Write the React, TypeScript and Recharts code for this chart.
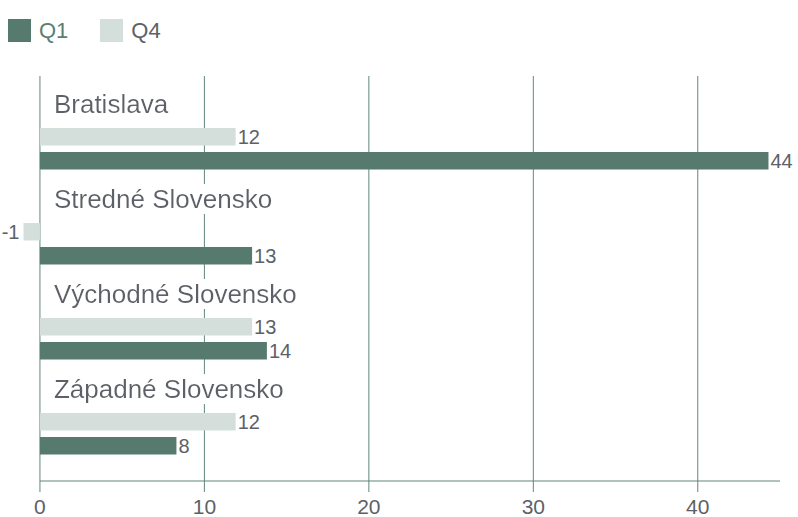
import React from 'react';
import { BarChart, Bar, XAxis, YAxis, CartesianGrid, LabelList, ReferenceLine } from 'recharts';

// regions and the two quarters
const CATEGORIES = ['Bratislava', 'Stredné Slovensko', 'Východné Slovensko', 'Západné Slovensko'];
const Q1_VALUES = [44.3, 12.9, 13.8, 8.3];
const Q4_VALUES = [11.9, -1.0, 12.9, 11.9];
const X_TICKS = [0, 10, 20, 30, 40];

const DARK = '#567b6e';
const LIGHT = '#d4dfdb';
const GRID = '#628779';
const TEXT = '#5d6167';
const FONT = '"Liberation Sans", Arial, Helvetica, sans-serif';

const data = CATEGORIES.map((name, i) => ({ name, q1: Q1_VALUES[i], q4: Q4_VALUES[i] }));

const LEGEND = [
  { name: 'Q1', color: DARK, text: '#5a7f72' },
  { name: 'Q4', color: LIGHT, text: TEXT },
];

const Y_PADDING = { top: 25, bottom: 0 };

// value next to the end of the bar, on the left for negatives
const renderValue = (props: any) => {
  const { x, y, width, height, value } = props;
  const left = Math.min(x, x + width);
  const right = Math.max(x, x + width);
  const neg = value < 0;
  return (
    <text
      x={neg ? left - 4 : right + 2}
      y={y + height / 2}
      dy="0.36em"
      textAnchor={neg ? 'end' : 'start'}
      fill={TEXT}
      fontSize={20}
      fontFamily={FONT}
    >
      {Math.round(value)}
    </text>
  );
};

// region name above the bars, white box behind it hides the grid
const renderName = (props: any) => {
  const { x, y, width, value, index } = props;
  const neg = Q4_VALUES[index] < 0;
  const zeroX = neg ? Math.max(x, x + width) : Math.min(x, x + width);
  const id = `label-bg-${index}`;
  return (
    <g>
      <defs>
        <filter id={id} x="-0.02" y="0" width="1.04" height="1">
          <feFlood floodColor="#ffffff" result="bg" />
          <feMerge>
            <feMergeNode in="bg" />
            <feMergeNode in="SourceGraphic" />
          </feMerge>
        </filter>
      </defs>
      <text
        x={zeroX + 14}
        y={y - 27}
        fill={TEXT}
        fontSize={26}
        fontFamily={FONT}
        textAnchor="start"
        filter={`url(#${id})`}
      >
        {value}
      </text>
    </g>
  );
};

export default function App() {
  const lastCategory = CATEGORIES[CATEGORIES.length - 1];
  return (
    <div style={{ position: 'relative', width: 798, height: 517, fontFamily: FONT }}>
      <style>{'body { margin: 0; }'}</style>
      <div style={{ position: 'absolute', top: 19, left: 8, display: 'flex', gap: 32 }}>
        {LEGEND.map((item) => (
          <div key={item.name} style={{ display: 'flex', alignItems: 'center' }}>
            <span style={{ width: 23, height: 23, background: item.color, marginRight: 8 }} />
            <span style={{ fontSize: 22, lineHeight: '23px', color: item.text }}>{item.name}</span>
          </div>
        ))}
      </div>
      <BarChart
        width={798}
        height={517}
        data={data}
        layout="vertical"
        margin={{ top: 76, right: 18, bottom: 0, left: 23.5 }}
        barSize={17.5}
        barGap={6.5}
      >
        <XAxis
          type="number"
          domain={[-1, 45]}
          ticks={X_TICKS}
          axisLine={false}
          tickLine={{ stroke: GRID }}
          tickSize={11}
          tickMargin={7}
          height={36}
          tick={{ fill: TEXT, fontSize: 21, fontFamily: FONT }}
        />
        <YAxis type="category" dataKey="name" hide padding={Y_PADDING} />
        <YAxis yAxisId="names" type="category" dataKey="name" hide padding={Y_PADDING} />
        <Bar dataKey="q4" name="Q4" fill={LIGHT} isAnimationActive={false}>
          <LabelList dataKey="q4" content={renderValue} />
        </Bar>
        <Bar dataKey="q1" name="Q1" fill={DARK} isAnimationActive={false}>
          <LabelList dataKey="q1" content={renderValue} />
        </Bar>
        <CartesianGrid horizontal={false} syncWithTicks stroke={GRID} strokeWidth={1} />
        <ReferenceLine
          segment={[{ x: 0, y: lastCategory }, { x: 45, y: lastCategory }]}
          position="end"
          stroke={GRID}
          strokeWidth={1.2}
        />
        {/* empty bar on its own axis, only carries the region names over the grid */}
        <Bar
          yAxisId="names"
          dataKey="q4"
          legendType="none"
          fill="none"
          isAnimationActive={false}
        >
          <LabelList dataKey="name" content={renderName} />
        </Bar>
      </BarChart>
    </div>
  );
}
